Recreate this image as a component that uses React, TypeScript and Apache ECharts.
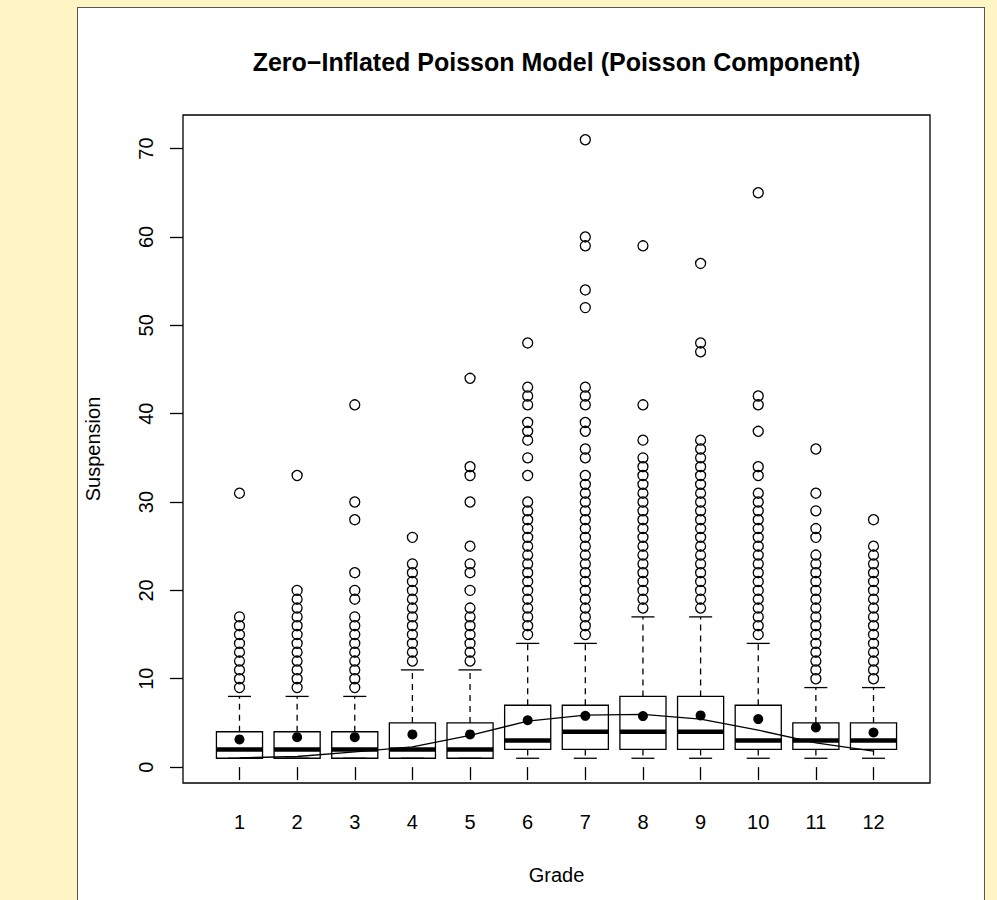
import React, { useEffect, useRef } from "react";
import * as echarts from "echarts";

const FONT = "'Liberation Sans', Arial, Helvetica, sans-serif";

const titleText = "Zero\u2212Inflated Poisson Model (Poisson Component)";
const xLabel = "Grade";
const yLabel = "Suspension";

const grades = [1, 2, 3, 4, 5, 6, 7, 8, 9, 10, 11, 12];
const yTicks = [0, 10, 20, 30, 40, 50, 60, 70];

// box statistics per grade
const lowerWhisker = [1, 1, 1, 1, 1, 1, 1, 1, 1, 1, 1, 1];
const q1 = [1, 1, 1, 1, 1, 2, 2, 2, 2, 2, 2, 2];
const median = [2, 2, 2, 2, 2, 3, 4, 4, 4, 3, 3, 3];
const q3 = [4, 4, 4, 5, 5, 7, 7, 8, 8, 7, 5, 5];
const upperWhisker = [8, 8, 8, 11, 11, 14, 14, 17, 17, 14, 9, 9];

// observed means (filled dots) and fitted Poisson-component means (line)
const means = [3.13, 3.39, 3.39, 3.7, 3.7, 5.3, 5.8, 5.77, 5.85, 5.43, 4.49, 3.92];
const fitted = [1.05, 1.2, 1.73, 2.3, 3.6, 5.2, 5.88, 5.96, 5.43, 4.18, 2.75, 1.81];

// outliers per grade
const outliers: number[][] = [
  [9, 10, 11, 12, 13, 14, 15, 16, 17, 31],
  [9, 10, 11, 12, 13, 14, 15, 16, 17, 18, 19, 20, 33],
  [9, 10, 11, 12, 13, 14, 15, 16, 17, 19, 20, 22, 28, 30, 41],
  [12, 13, 14, 15, 16, 17, 18, 19, 20, 21, 22, 23, 26],
  [12, 13, 14, 15, 16, 17, 18, 20, 22, 23, 25, 30, 33, 34, 44],
  [15, 16, 17, 18, 19, 20, 21, 22, 23, 24, 25, 26, 27, 28, 29, 30, 33, 35, 37, 38, 39, 41, 42, 43, 48],
  [15, 16, 17, 18, 19, 20, 21, 22, 23, 24, 25, 26, 27, 28, 29, 30, 31, 32, 33, 35, 36, 38, 39, 41, 42, 43, 52, 54, 59, 60, 71],
  [18, 19, 20, 21, 22, 23, 24, 25, 26, 27, 28, 29, 30, 31, 32, 33, 34, 35, 37, 41, 59],
  [18, 19, 20, 21, 22, 23, 24, 25, 26, 27, 28, 29, 30, 31, 32, 33, 34, 35, 36, 37, 47, 48, 57],
  [15, 16, 17, 18, 19, 20, 21, 22, 23, 24, 25, 26, 27, 28, 29, 30, 31, 33, 34, 38, 41, 42, 65],
  [10, 11, 12, 13, 14, 15, 16, 17, 18, 19, 20, 21, 22, 23, 24, 26, 27, 29, 31, 36],
  [10, 11, 12, 13, 14, 15, 16, 17, 18, 19, 20, 21, 22, 23, 24, 25, 28],
];

export default function App() {
  const ref = useRef<HTMLDivElement>(null);

  useEffect(() => {
    if (!ref.current) return;
    const chart = echarts.init(ref.current, undefined, { renderer: "svg" });

    const boxData = grades.map((g, i) => [g, lowerWhisker[i], q1[i], median[i], q3[i], upperWhisker[i]]);
    const outlierData: number[][] = [];
    grades.forEach((g, i) => outliers[i].forEach((v) => outlierData.push([g, v])));
    const meanData = grades.map((g, i) => [g, means[i]]);
    const fitData = grades.map((g, i) => [g, fitted[i]]);

    const lw = 1.3;
    const renderBox = (params: any, api: any) => {
      const g = api.value(0);
      const lo = api.value(1);
      const a = api.value(2);
      const m = api.value(3);
      const b = api.value(4);
      const hi = api.value(5);
      const cx = api.coord([g, 0])[0];
      const xL = api.coord([g - 0.4, 0])[0];
      const xR = api.coord([g + 0.4, 0])[0];
      const cL = api.coord([g - 0.2, 0])[0];
      const cR = api.coord([g + 0.2, 0])[0];
      const y = (v: number) => api.coord([g, v])[1];
      const stroke = "#000";
      return {
        type: "group",
        children: [
          { type: "line", shape: { x1: cx, y1: y(b), x2: cx, y2: y(hi) }, style: { stroke, lineWidth: lw, lineDash: [6, 5] } },
          { type: "line", shape: { x1: cx, y1: y(a), x2: cx, y2: y(lo) }, style: { stroke, lineWidth: lw, lineDash: [6, 5] } },
          { type: "line", shape: { x1: cL, y1: y(hi), x2: cR, y2: y(hi) }, style: { stroke, lineWidth: lw } },
          { type: "line", shape: { x1: cL, y1: y(lo), x2: cR, y2: y(lo) }, style: { stroke, lineWidth: lw } },
          { type: "rect", shape: { x: xL, y: y(b), width: xR - xL, height: y(a) - y(b) }, style: { fill: "none", stroke, lineWidth: lw } },
          { type: "line", shape: { x1: xL, y1: y(m), x2: xR, y2: y(m) }, style: { stroke, lineWidth: 4.5 } },
        ],
      };
    };

    chart.setOption({
      animation: false,
      backgroundColor: "transparent",
      textStyle: { fontFamily: FONT },
      graphic: [
        {
          type: "text",
          x: 556.5,
          y: 62,
          style: {
            text: titleText,
            font: `bold 25px ${FONT}`,
            fill: "#000",
            textAlign: "center",
            textVerticalAlign: "middle",
          },
        },
      ],
      grid: {
        left: 183,
        top: 115,
        width: 747,
        height: 668,
        show: true,
        borderColor: "#000",
        borderWidth: 1.3,
        backgroundColor: "transparent",
      },
      xAxis: {
        type: "value",
        min: 0.02,
        max: 12.98,
        axisLine: { show: false },
        splitLine: { show: false },
        axisTick: { show: true, length: 13, customValues: grades, lineStyle: { color: "#000", width: lw } },
        axisLabel: { customValues: grades, fontSize: 20, margin: 29, color: "#000", fontFamily: FONT },
        name: xLabel,
        nameLocation: "middle",
        nameGap: 82,
        nameTextStyle: { fontSize: 20, color: "#000", fontFamily: FONT },
      },
      yAxis: {
        type: "value",
        min: -1.8,
        max: 73.8,
        axisLine: { show: false },
        splitLine: { show: false },
        axisTick: { show: true, length: 13, customValues: yTicks, lineStyle: { color: "#000", width: lw } },
        axisLabel: { customValues: yTicks, rotate: 90, fontSize: 20, margin: 27, color: "#000", fontFamily: FONT },
        name: yLabel,
        nameLocation: "middle",
        nameRotate: 90,
        nameGap: 80,
        nameTextStyle: { fontSize: 20, color: "#000", fontFamily: FONT },
      },
      series: [
        {
          type: "custom",
          renderItem: renderBox,
          data: boxData,
          encode: { x: 0, y: [1, 2, 3, 4, 5] },
          silent: true,
          z: 2,
        },
        {
          type: "scatter",
          data: outlierData,
          symbol: "circle",
          symbolSize: 10,
          itemStyle: { color: "rgba(0,0,0,0)", borderColor: "#000", borderWidth: 1.3, opacity: 1 },
          silent: true,
          z: 3,
        },
        {
          type: "scatter",
          data: meanData,
          symbol: "circle",
          symbolSize: 10,
          itemStyle: { color: "#000", opacity: 1 },
          silent: true,
          z: 4,
        },
        {
          type: "line",
          data: fitData,
          symbol: "none",
          lineStyle: { color: "#000", width: 1.3 },
          silent: true,
          z: 5,
        },
      ],
    });

    return () => chart.dispose();
  }, []);

  return (
    <div style={{ position: "fixed", left: 0, top: 0, width: 997, height: 900, background: "#fff5c4", overflow: "hidden" }}>
      <div
        style={{
          position: "absolute",
          left: 77,
          top: 7,
          width: 908,
          height: 910,
          background: "#fff",
          border: "1.5px solid #555",
          boxSizing: "border-box",
        }}
      />
      <div ref={ref} style={{ position: "absolute", left: 0, top: 0, width: 997, height: 900 }} />
    </div>
  );
}
